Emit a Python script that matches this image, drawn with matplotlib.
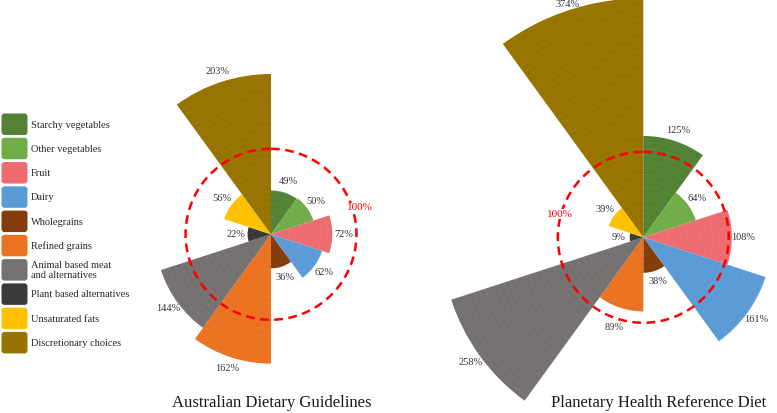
import numpy as np
import matplotlib.pyplot as plt
from matplotlib.patches import FancyBboxPatch

plt.rcParams['font.family'] = ['Liberation Serif', 'DejaVu Serif']

# data
categories = ["Starchy vegetables", "Other vegetables", "Fruit", "Dairy", "Wholegrains",
              "Refined grains", "Animal based meat\nand alternatives", "Plant based alternatives",
              "Unsaturated fats", "Discretionary choices"]
colors = ["#548235", "#70AD47", "#EE6B70", "#5B9BD5", "#843C0C",
          "#EA7220", "#767171", "#3A3A3A", "#FFC000", "#977300"]
adg = [49, 50, 72, 62, 36, 162, 144, 22, 56, 203]
phrd = [125, 64, 108, 161, 38, 89, 258, 9, 39, 374]
titles = ["Australian Dietary Guidelines", "Planetary Health Reference Diet"]

W, H = 777, 413
RMAX = 307     # shared radial limit, the 374% bar is cut off by it
R0 = -9        # radial origin (bars start from the very centre)
RING = 104     # radius of the dashed 100% ring
RPX = 239      # axes radius in pixels

fig = plt.figure(figsize=(W / 100, H / 100), dpi=100)

# pixel-space overlay for legend and titles
bg = fig.add_axes([0, 0, 1, 1])
bg.set_xlim(0, W)
bg.set_ylim(H, 0)
bg.set_axis_off()

for i, (c, lab) in enumerate(zip(colors, categories)):
    top = 113.5 + 24.27 * i
    bg.add_patch(FancyBboxPatch((1.5, top), 26, 21.5, boxstyle="round,pad=0,rounding_size=3",
                                facecolor=c, edgecolor="none"))
    bg.text(31, top + 11.5, lab, fontsize=7.5, va="center", ha="left", color="#262626",
            linespacing=1.05)


def rose(cx, cy, vals, title, tx, ring_lab):
    ax = fig.add_axes([(cx - RPX) / W, (H - cy - RPX) / H, 2 * RPX / W, 2 * RPX / H],
                      projection="polar")
    ax.set_theta_zero_location("N")
    ax.set_theta_direction(-1)
    ax.set_rlim(R0, RMAX)
    ax.set_rorigin(R0)
    ax.set_axis_off()
    n = len(vals)
    width = 2 * np.pi / n
    theta = (np.arange(n) + 0.5) * width
    ax.bar(theta, np.array(vals) - R0, bottom=R0, width=width, color=colors, linewidth=0)
    for t, v in zip(theta, vals):
        # faint concentric banding inside the wedges
        tt = np.linspace(t - width / 2, t + width / 2, 30)
        for r in np.arange(6, min(v, RMAX), 8.5):
            ax.plot(tt, np.full_like(tt, r), color="white", alpha=0.06, lw=0.6)
        if v >= RMAX:
            rl = RMAX + 8
        elif abs(v + 15 - RING) < 10:
            rl = RING + 13   # keep the label off the dashed ring
        else:
            rl = v + 15
        ax.text(t, rl, f"{v}%", ha="center", va="center", fontsize=7.5, color="#333333")
    tt = np.linspace(0, 2 * np.pi, 400)
    ax.plot(tt, np.full_like(tt, RING), color="#FF0000", lw=1.8, ls=(0, (3.5, 2.2)), zorder=3)
    ax.text(np.deg2rad(ring_lab[0]), ring_lab[1], "100%", color="#FF0000", fontsize=8,
            ha="center", va="center", zorder=4,
            bbox=dict(facecolor="white", edgecolor="none", pad=0.5))
    bg.text(tx, 403, title, fontsize=12, ha="right", va="center", color="#1a1a1a")


rose(271, 234.3, adg, titles[0], 372, (73.5, 113.8))
rose(643.3, 237.3, phrd, titles[1], 766, (285.6, 105.4))

fig.savefig("out.png", dpi=100)
